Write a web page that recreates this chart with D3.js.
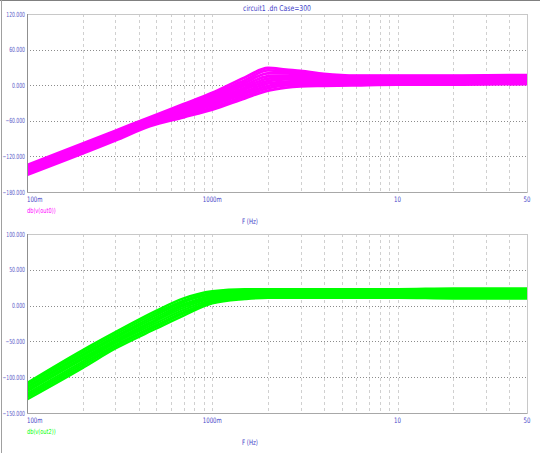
<!DOCTYPE html>
<html lang="en">
<head>
    <meta charset="UTF-8">
    <title>circuit1 dn Case=300</title>
    <style>
        body { margin: 0; background: #fff; }
        text { font-family: "DejaVu Sans Condensed", "Liberation Sans", sans-serif; }
    </style>
</head>
<body>
    <div id="container"></div>
    <script src="https://d3js.org/d3.v7.min.js"></script>
    <script type="text/javascript">

        // top plot: magnitude, a few of the monte carlo runs
        var topFreq = [0.1, 0.3, 0.46, 0.7, 1, 1.5, 2, 2.5, 3, 4, 6, 10, 20, 50];
        var topRuns = [
            [-135, -77, -54, -32, -13, 13, 29, 26, 24, 19, 16, 16, 16, 17],
            [-137, -79, -56, -35, -16, 8, 25, 23, 21, 17, 15, 15, 15, 16],
            [-139, -81, -58, -37, -19, 4, 20, 20, 18, 15, 13, 14, 14, 15],
            [-141, -83, -59, -39, -22, 0, 15, 16, 15, 13, 12, 12, 13, 13],
            [-143, -84, -61, -41, -25, -4, 11, 13, 13, 12, 11, 11, 11, 12],
            [-144, -86, -62, -43, -28, -7, 7, 10, 10, 10, 9, 10, 10, 10],
            [-146, -88, -64, -46, -31, -11, 3, 6, 7, 8, 7, 8, 8, 9],
            [-147, -89, -65, -48, -34, -14, -1, 3, 4, 5, 5, 6, 6, 7],
            [-149, -91, -67, -51, -38, -18, -5, 0, 1, 2, 3, 4, 4, 5],
            [-151, -93, -69, -54, -41, -22, -9, -4, -2, -1, 0, 1, 1, 2]
        ];
        var topTicks = [120, 60, 0, -60, -120, -180];

        // bottom plot
        var botFreq = [0.1, 0.2, 0.3, 0.5, 0.7, 1, 1.5, 2, 5, 10, 20, 50];
        var botRuns = [
            [-108, -62, -37, -7, 10, 20, 23, 23, 23, 23, 24, 24],
            [-110, -65, -40, -10, 7, 18, 22, 22, 22, 22, 23, 23],
            [-113, -68, -43, -13, 5, 16, 21, 21, 21, 21, 21, 22],
            [-115, -70, -45, -16, 2, 14, 19, 19, 19, 20, 20, 20],
            [-118, -73, -48, -19, 0, 12, 17, 18, 18, 18, 18, 18],
            [-120, -75, -50, -21, -3, 10, 15, 16, 16, 16, 16, 17],
            [-123, -78, -52, -24, -6, 8, 14, 15, 15, 15, 15, 15],
            [-126, -81, -55, -27, -9, 6, 12, 13, 13, 13, 13, 13],
            [-128, -84, -57, -29, -11, 4, 11, 12, 12, 12, 12, 12],
            [-131, -87, -60, -32, -14, 3, 9, 11, 11, 11, 10, 10]
        ];
        var botTicks = [100, 50, 0, -50, -100, -150];

        var xTicks = [0.1, 1, 10, 50];
        var xTickText = ["100m", "1000m", "10", "50"];
        var minorF = [0.2, 0.3, 0.4, 0.5, 0.6, 0.7, 0.8, 0.9, 1, 2, 3, 4, 5, 6, 7, 8, 9, 10, 20, 30, 40];

        var width = 540, height = 453;
        var svg = d3.select("#container").append("svg")
            .attr("width", width)
            .attr("height", height);

        // window frame
        svg.append("line").attr("x1", 0).attr("x2", width).attr("y1", 0.5).attr("y2", 0.5)
            .attr("stroke", "#808080");
        svg.append("line").attr("x1", 1.5).attr("x2", 1.5).attr("y1", 0).attr("y2", height)
            .attr("stroke", "#a0a0a0");

        svg.append("text")
            .attr("transform", "translate(277,11) scale(0.85,1)")
            .attr("text-anchor", "middle")
            .attr("font-size", 8)
            .attr("fill", "#3c3cc8")
            .text("circuit1 .dn Case=300");

        var x = d3.scaleLog().domain([0.1, 50]).range([27, 527]);

        function drawPlot(id, top, bottom, ydom, ticks, freq, runs, color, label, sw) {
            var y = d3.scaleLinear().domain(ydom).range([bottom, top]);
            var g = svg.append("g");

            g.append("clipPath").attr("id", id)
              .append("rect")
                .attr("x", 28).attr("y", top)
                .attr("width", 499).attr("height", bottom - top);

            // vertical grid
            g.selectAll(".vg").data(minorF).enter().append("line")
                .attr("x1", function(d) { return Math.round(x(d)) + 0.5; })
                .attr("x2", function(d) { return Math.round(x(d)) + 0.5; })
                .attr("y1", top).attr("y2", bottom)
                .attr("stroke", "#d0d0d0")
                .attr("stroke-dasharray", "3,3");

            // horizontal grid
            g.selectAll(".hg").data(ticks.slice(1, -1)).enter().append("line")
                .attr("x1", 27).attr("x2", 527)
                .attr("y1", function(d) { return Math.round(y(d)) + 0.5; })
                .attr("y2", function(d) { return Math.round(y(d)) + 0.5; })
                .attr("stroke", "#8c8c8c")
                .attr("stroke-dasharray", "1,2");

            g.append("rect")
                .attr("x", 27.5).attr("y", top + 0.5)
                .attr("width", 500).attr("height", bottom - top)
                .attr("fill", "none")
                .attr("stroke", "#c8c8c8");
            g.append("line").attr("x1", 27.5).attr("x2", 27.5).attr("y1", top).attr("y2", bottom)
                .attr("stroke", "#909090");
            g.append("line").attr("x1", 27).attr("x2", 527).attr("y1", bottom + 0.5).attr("y2", bottom + 0.5)
                .attr("stroke", "#a8a8a8");

            // y labels, squeezed like the narrow font of the original
            g.selectAll(".yl").data(ticks).enter().append("text")
                .attr("transform", function(d) { return "translate(25," + (y(d) + 2.5) + ") scale(0.72,1)"; })
                .attr("text-anchor", "end")
                .attr("font-size", 7)
                .attr("fill", "#5a5ac8")
                .text(function(d) { return d3.format(".3f")(d); });

            // x labels
            g.selectAll(".xl").data(xTicks).enter().append("text")
                .attr("transform", function(d) { return "translate(" + x(d) + "," + (bottom + 10) + ") scale(0.8,1)"; })
                .attr("text-anchor", function(d, i) { return i == 0 ? "start" : "middle"; })
                .attr("font-size", 7.5)
                .attr("fill", "#4646c8")
                .text(function(d, i) { return xTickText[i]; });

            g.append("text")
                .attr("transform", "translate(250," + (bottom + 32) + ") scale(0.8,1)")
                .attr("text-anchor", "middle")
                .attr("font-size", 7.5)
                .attr("fill", "#4646c8")
                .text("F (Hz)");

            g.append("text")
                .attr("transform", "translate(27," + (bottom + 21) + ") scale(0.8,1)")
                .attr("font-size", 7)
                .attr("fill", color)
                .text(label);

            var line = d3.line()
                .x(function(d, i) { return x(freq[i]); })
                .y(function(d) { return y(d); })
                .curve(d3.curveMonotoneX);

            g.append("g")
                .attr("clip-path", "url(#" + id + ")")
              .selectAll("path").data(runs).enter().append("path")
                .attr("d", line)
                .attr("fill", "none")
                .attr("stroke", color)
                .attr("stroke-width", sw);
        }

        drawPlot("clipTop", 14, 192, [-180, 120], topTicks, topFreq, topRuns, "#ff00ff", "db(v(out0))", 2.9);
        drawPlot("clipBot", 234, 413, [-150, 100], botTicks, botFreq, botRuns, "#00ff00", "db(v(out2))", 2.4);

    </script>
</body>
</html>
